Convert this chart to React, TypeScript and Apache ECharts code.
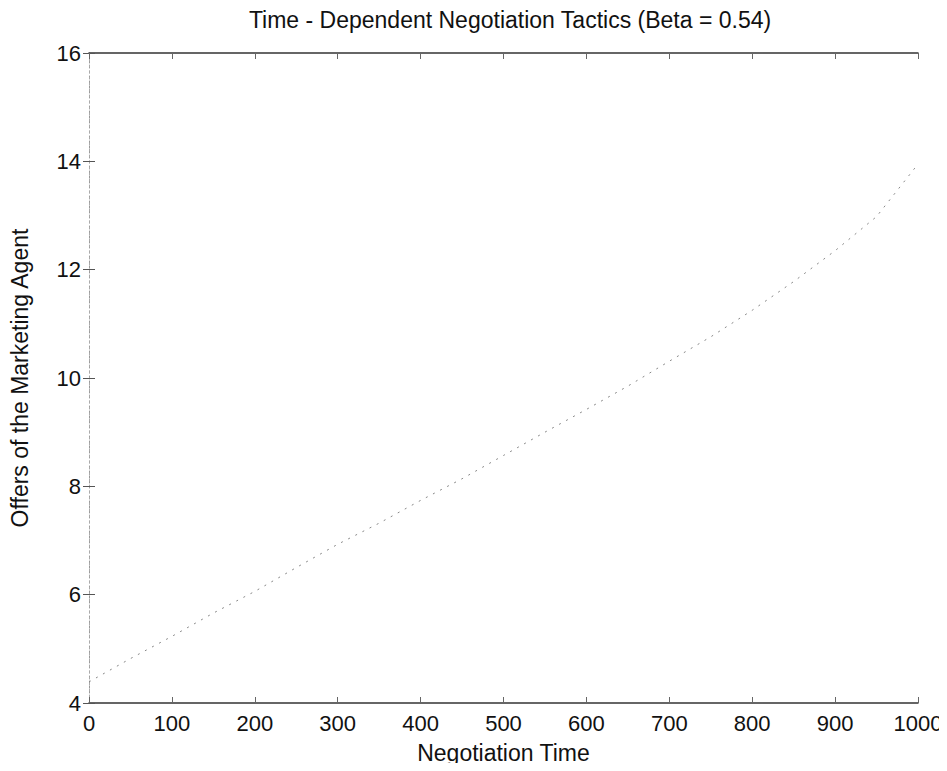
import React, { useEffect, useRef } from "react";
import * as echarts from "echarts";

// Negotiation time steps and the marketing agent's offer at each step
const negotiationTime = [0, 50, 100, 150, 200, 250, 300, 350, 400, 450, 500, 550, 600, 650, 700, 750, 800, 850, 900, 950, 1000];
const agentOffers = [4.39, 4.82, 5.23, 5.66, 6.06, 6.5, 6.93, 7.32, 7.74, 8.14, 8.57, 9.0, 9.42, 9.85, 10.31, 10.76, 11.25, 11.78, 12.35, 12.98, 13.95];

const xTicks = [0, 100, 200, 300, 400, 500, 600, 700, 800, 900, 1000];
const yTicks = [4, 6, 8, 10, 12, 14, 16];

const FONT = "'Liberation Sans', Arial, Helvetica, sans-serif";

export default function App() {
  const ref = useRef<HTMLDivElement>(null);

  useEffect(() => {
    if (!ref.current) return;
    const chart = echarts.init(ref.current, undefined, { renderer: "svg" });
    const seriesData = negotiationTime.map((t, i) => [t, agentOffers[i]]);

    const tickFmt = (v: number) => String(v);

    chart.setOption({
      animation: false,
      backgroundColor: "#fff",
      title: {
        text: "Time - Dependent Negotiation Tactics (Beta = 0.54)",
        left: 505,
        textAlign: "center",
        top: 3,
        textStyle: { fontFamily: FONT, fontSize: 23, fontWeight: "normal", color: "#111" },
      },
      grid: { left: 86, right: 29, top: 53, bottom: 68 },
      xAxis: [
        {
          type: "value",
          min: 0,
          max: 1000,
          interval: 100,
          position: "bottom",
          name: "Negotiation Time",
          nameLocation: "middle",
          nameGap: 38,
          nameTextStyle: { fontFamily: FONT, fontSize: 23, color: "#111" },
          axisLine: { lineStyle: { color: "#333", width: 1.5 } },
          axisTick: { inside: true, length: 6, lineStyle: { color: "#666" } },
          axisLabel: {
            fontFamily: FONT,
            fontSize: 22,
            color: "#111",
            margin: 9,
            formatter: tickFmt,
            customValues: xTicks,
          },
          splitLine: { show: false },
        },
        {
          type: "value",
          min: 0,
          max: 1000,
          interval: 100,
          position: "top",
          axisLine: { lineStyle: { color: "#333", width: 1.5 } },
          axisTick: { inside: true, length: 6, lineStyle: { color: "#666" } },
          axisLabel: { show: false },
          splitLine: { show: false },
        },
      ],
      yAxis: [
        {
          type: "value",
          min: 4,
          max: 16,
          interval: 2,
          position: "left",
          name: "Offers of the Marketing Agent",
          nameLocation: "middle",
          nameGap: 58,
          nameTextStyle: { fontFamily: FONT, fontSize: 23, color: "#111" },
          axisLine: { lineStyle: { color: "#999", width: 1, type: [2, 3] } },
          axisTick: { inside: true, length: 6, lineStyle: { color: "#555" } },
          axisLabel: {
            fontFamily: FONT,
            fontSize: 22,
            color: "#111",
            margin: 8,
            formatter: tickFmt,
            customValues: yTicks,
          },
          splitLine: { show: false },
        },
        {
          type: "value",
          min: 4,
          max: 16,
          interval: 2,
          position: "right",
          axisLine: { lineStyle: { color: "#aaa", width: 1, type: [2, 4] } },
          axisTick: { inside: true, length: 6, lineStyle: { color: "#555" } },
          axisLabel: { show: false },
          splitLine: { show: false },
        },
      ],
      series: [
        {
          type: "line",
          data: seriesData,
          xAxisIndex: 0,
          yAxisIndex: 0,
          showSymbol: false,
          smooth: false,
          lineStyle: { color: "#888", width: 1, type: [2, 6] },
        },
      ],
    });

    return () => chart.dispose();
  }, []);

  return <div ref={ref} style={{ width: 947, height: 771, margin: -8 }} />;
}
